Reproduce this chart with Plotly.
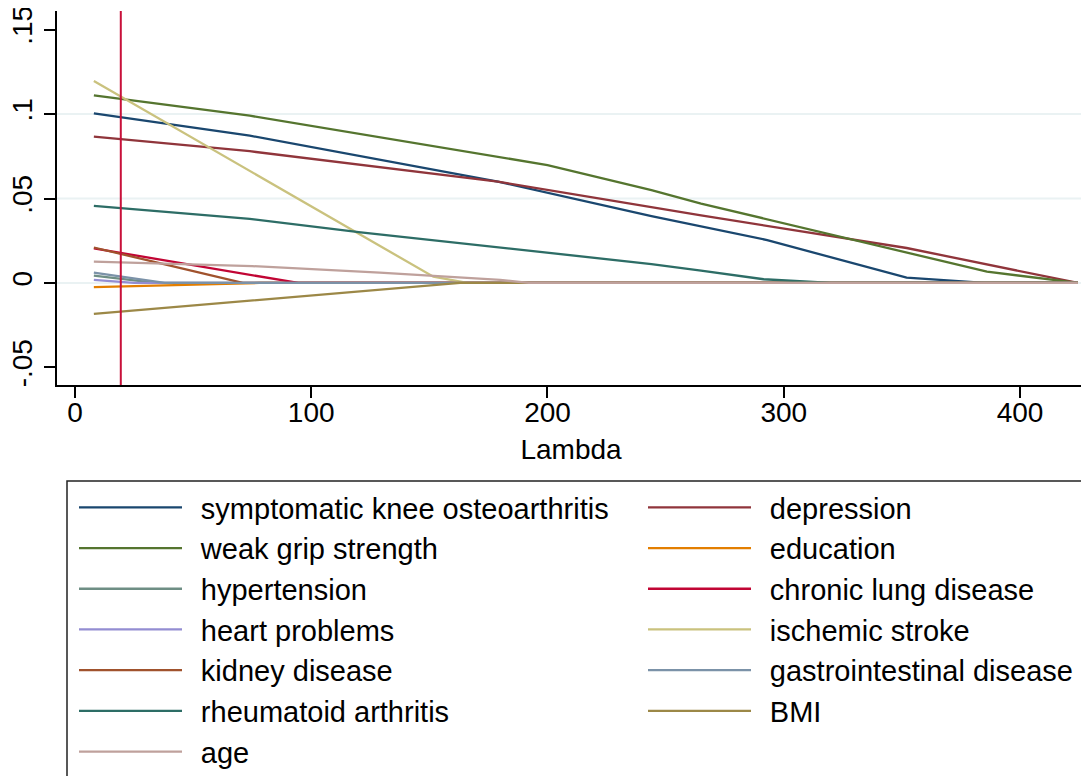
import plotly.graph_objects as go

# ---- data ----
LAMBDA_CV = 19.4  # cross-validated lambda (vertical line)

names = [
    "symptomatic knee osteoarthritis", "depression",
    "weak grip strength", "education",
    "hypertension", "chronic lung disease",
    "heart problems", "ischemic stroke",
    "kidney disease", "gastrointestinal disease",
    "rheumatoid arthritis", "BMI",
    "age",
]

knee_x = [8, 74, 179, 244, 293, 352, 385, 424.5]
knee_y = [0.1004, 0.0872, 0.060, 0.0396, 0.0254, 0.0031, 0, 0]
depr_x = [8, 74, 179, 244, 265, 352, 424.5]
depr_y = [0.0866, 0.078, 0.060, 0.0446, 0.040, 0.0207, 0]
grip_x = [8, 74, 200, 244, 265, 386, 424.5]
grip_y = [0.111, 0.099, 0.0698, 0.055, 0.047, 0.0067, 0]
educ_x = [8, 78, 424.5]
educ_y = [-0.0025, 0, 0]
hyper_x = [8, 34, 424.5]
hyper_y = [0.0043, 0, 0]
lung_x = [8, 94.5, 424.5]
lung_y = [0.0205, 0, 0]
heart_x = [8, 25, 424.5]
heart_y = [0.0018, 0, 0]
stroke_x = [8, 151.7, 166, 424.5]
stroke_y = [0.1195, 0.0037, 0, 0]
kidney_x = [8, 71, 424.5]
kidney_y = [0.021, 0, 0]
gastro_x = [8, 38, 424.5]
gastro_y = [0.0061, 0, 0]
rheum_x = [8, 74, 121, 244, 265, 291.5, 320, 424.5]
rheum_y = [0.0456, 0.038, 0.030, 0.0112, 0.0073, 0.0022, 0, 0]
bmi_x = [8, 163, 424.5]
bmi_y = [-0.0183, 0, 0]
age_x = [8, 75, 129, 180, 192, 424.5]
age_y = [0.0126, 0.010, 0.0061, 0.0018, 0, 0]

xs = [knee_x, depr_x, grip_x, educ_x, hyper_x, lung_x, heart_x,
      stroke_x, kidney_x, gastro_x, rheum_x, bmi_x, age_x]
ys = [knee_y, depr_y, grip_y, educ_y, hyper_y, lung_y, heart_y,
      stroke_y, kidney_y, gastro_y, rheum_y, bmi_y, age_y]

colors = ["#1a476f", "#90353b", "#55752f", "#e37e00", "#6e8e84", "#c10534",
          "#938dd2", "#cac27e", "#a0522d", "#7b92a8", "#2d6d66", "#9c8847",
          "#bfa19c"]

x_ticks = [0, 100, 200, 300, 400]
y_ticks = [-0.05, 0, 0.05, 0.1, 0.15]
y_ticktext = ["-.05", "0", ".05", ".1", ".15"]
grid_y = [0, 0.05, 0.1]

FONT = "Liberation Sans, Arial, sans-serif"
# the page body adds an 8px offset, so the figure is 8px smaller each way
W, H = 1081, 768
ML, MR, MT, MB = 49, 4, 3, 391
PW, PH = W - ML - MR, H - MT - MB

fig = go.Figure()
for i, (n, x, y, c) in enumerate(zip(names, xs, ys, colors)):
    fig.add_trace(go.Scatter(
        x=x, y=y, mode="lines", name="\u00a0\u2009" + n,
        line=dict(color=c, width=2.3),
        legend="legend" if i % 2 == 0 else "legend2"))

for g in grid_y:
    fig.add_shape(type="line", xref="paper", x0=0, x1=1, yref="y", y0=g, y1=g,
                  line=dict(color="#eaf2f3", width=2), layer="below")

fig.add_shape(type="line", xref="x", x0=LAMBDA_CV, x1=LAMBDA_CV,
              yref="paper", y0=0, y1=1, line=dict(color="#c8103a", width=2))


def px2paper_x(px):
    return (px - ML) / PW


def px2paper_y(py):
    return (H - MB - py) / PH


# legend frame
fig.add_shape(type="rect", xref="paper", yref="paper",
              x0=px2paper_x(59), x1=px2paper_x(1075),
              y0=px2paper_y(800), y1=px2paper_y(473),
              line=dict(color="#222", width=1.5), fillcolor="rgba(0,0,0,0)")

leg_common = dict(
    orientation="v", xref="container", yref="container",
    xanchor="left", yanchor="top", borderwidth=0,
    bgcolor="rgba(0,0,0,0)",
    font=dict(family=FONT, size=29, color="black"),
    itemwidth=103, traceorder="normal",
)

fig.update_layout(
    width=W, height=H,
    margin=dict(l=ML, r=MR, t=MT, b=MB, autoexpand=False),
    paper_bgcolor="white", plot_bgcolor="white",
    font=dict(family=FONT, size=28, color="black"),
    showlegend=True,
    legend=dict(x=66 / W, y=1 - 474 / H, **leg_common),
    legend2=dict(x=635 / W, y=1 - 474 / H, **leg_common),
)
fig.update_xaxes(
    range=[-7.6, 427.5], tickvals=x_ticks, showgrid=False, zeroline=False,
    showline=True, linecolor="black", linewidth=1.5, automargin=False,
    ticks="outside", ticklen=11, tickwidth=1.5, tickcolor="black",
    ticklabelstandoff=-9, ticklabeloverflow="allow",
    title=dict(text="Lambda", standoff=12, font=dict(size=28)),
    tickfont=dict(size=28),
)
fig.update_yaxes(
    range=[-0.0604, 0.161], tickvals=y_ticks, ticktext=y_ticktext,
    tickangle=-90, showgrid=False, zeroline=False, automargin=False,
    showline=True, linecolor="black", linewidth=1.5,
    ticks="outside", ticklen=11, tickwidth=1.5, tickcolor="black",
    ticklabelstandoff=1, ticklabeloverflow="allow",
    tickfont=dict(size=28),
)

fig.write_html("out.html")
